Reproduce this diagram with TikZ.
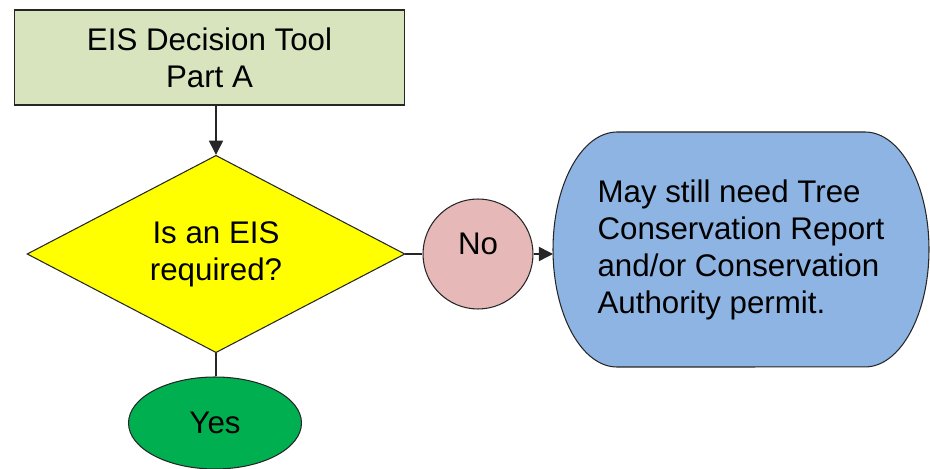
\documentclass[tikz,border=0pt]{standalone}
\usepackage{fontspec}
\setmainfont{Liberation Sans}
\usetikzlibrary{shapes}
\usetikzlibrary{arrows.meta}
\usetikzlibrary{positioning}

\definecolor{partagreen}{RGB}{215,228,189}
\definecolor{eisyellow}{RGB}{255,255,0}
\definecolor{nopink}{RGB}{230,185,184}
\definecolor{noteblue}{RGB}{141,180,226}
\definecolor{yesgreen}{RGB}{0,176,80}

\begin{document}
\begin{tikzpicture}[x=0.02cm,y=-0.02cm,
        box/.style={draw=black!85,line width=0.6pt,inner sep=0pt,
            font=\fontsize{17.8}{21}\selectfont,align=center},
        link/.style={draw=black!85,line width=0.8pt},
        arrow/.style={link,-{Triangle[length=8pt,width=8pt]}}]
        % Page frame
        \useasboundingbox (0,0) rectangle (930,469);
        % Start box and question
        \node (tool) at (209.5,57.5) [box,fill=partagreen,
            minimum width=7.82cm,minimum height=1.9cm]
            {EIS Decision Tool\\Part A};
        \node (eis) at (216,254) [box,diamond,fill=eisyellow,
            minimum width=7.56cm,minimum height=3.9cm]
            {Is an EIS\\required?};
        % Answers
        \node (no) at (478,254) [box,circle,fill=nopink,
            minimum size=2.2cm,text depth=11.4pt] {No};
        \node (yes) at (215,423) [box,ellipse,fill=yesgreen,
            minimum width=3.46cm,minimum height=1.84cm] {Yes};
        % Note with half-ellipse ends
        \filldraw [draw=black!85,line width=0.6pt,fill=noteblue]
            (617,132) -- (865,132)
            arc [start angle=90,end angle=-90,x radius=1.28cm,y radius=2.35cm]
            -- (617,367)
            arc [start angle=270,end angle=90,x radius=1.28cm,y radius=2.35cm]
            -- cycle;
        \node (note) at (741,250) [box,draw=none,
            minimum width=7.5cm,minimum height=4.7cm,align=left]
            {May still need Tree\\Conservation Report\\and/or Conservation\\Authority permit.};
        % Connectors
        \draw [arrow] (tool.south -| eis.north) -- (eis.north);
        \draw [link] (eis.east) -- (no.west);
        \draw [link] (eis.south) -- (eis.south |- yes.north);
        \draw [arrow] (no.east) -- (no.east -| note.west);
    \end{tikzpicture}
\end{document}
